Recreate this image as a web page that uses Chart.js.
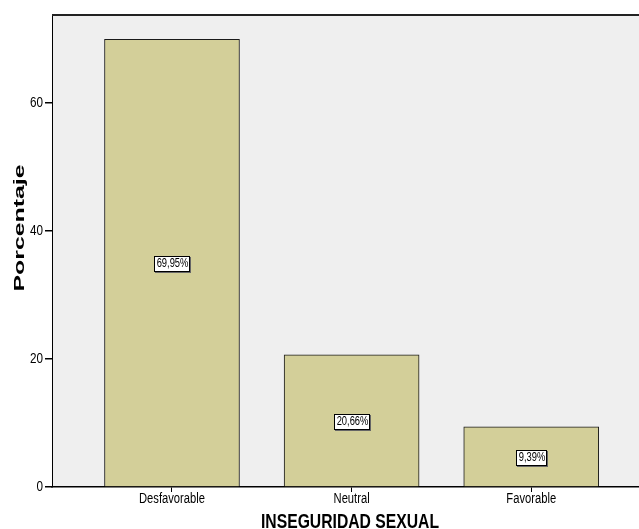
<!DOCTYPE html>
<html>
<head>
<meta charset="utf-8">
<script src="https://cdn.jsdelivr.net/npm/chart.js@4"></script>
<style>
	html, body { margin: 0; padding: 0; background: #ffffff; overflow: hidden; }
	#cadre { width: 639px; height: 529px; }
</style>
</head>
<body>
<div id="cadre"><canvas id="graphique"></canvas></div>
<script>
const categorias = ["Desfavorable", "Neutral", "Favorable"];
const porcentajes = [69.95, 20.66, 9.39];
const ticksY = [0, 20, 40, 60];

const tituloX = "INSEGURIDAD SEXUAL";
const tituloY = "Porcentaje";

const fuente = "'Liberation Sans', Arial, sans-serif";

// texte "condensé" comme dans SPSS
function texteEtroit(ctx, texte, x, y, echelle) {
	ctx.save();
	ctx.translate(x, y);
	ctx.scale(echelle, 1);
	ctx.fillText(texte, 0, 0);
	ctx.restore();
}

// fond gris + titres + etiquettes
const decor = {
	id: "decor",
	beforeDraw(chart) {
		const { ctx, chartArea } = chart;
		ctx.save();
		ctx.fillStyle = "#efefef";
		ctx.fillRect(chartArea.left, chartArea.top, chartArea.right - chartArea.left, chartArea.bottom - chartArea.top);
		ctx.restore();
	},
	afterDraw(chart) {
		const { ctx, chartArea } = chart;
		const barres = chart.getDatasetMeta(0).data;
		const sx = chart.scales.x;
		const sy = chart.scales.y;
		ctx.save();
		// ligne du haut
		ctx.strokeStyle = "#222";
		ctx.lineWidth = 2;
		ctx.beginPath();
		ctx.moveTo(chartArea.left, chartArea.top);
		ctx.lineTo(chartArea.right, chartArea.top);
		ctx.stroke();

		// etiquettes des barres
		ctx.font = "12px " + fuente;
		ctx.textAlign = "center";
		ctx.textBaseline = "middle";
		for (let i = 0; i < barres.length; i++) {
			const b = barres[i];
			const texte = porcentajes[i].toFixed(2).replace(".", ",") + "%";
			const cy = Math.round((b.y + b.base) / 2);
			const w = Math.round(ctx.measureText(texte).width * 0.78) + 3;
			const h = 15;
			const x0 = Math.round(b.x - w / 2);
			const y0 = cy - 7;
			ctx.fillStyle = "#666";
			ctx.fillRect(x0 + 1, y0 + 1, w + 1, h + 1);
			ctx.fillStyle = "#fff";
			ctx.fillRect(x0, y0, w, h);
			ctx.strokeStyle = "#000";
			ctx.lineWidth = 1;
			ctx.strokeRect(x0 + 0.5, y0 + 0.5, w, h);
			ctx.fillStyle = "#000";
			texteEtroit(ctx, texte, x0 + w / 2 + 1, cy + 1, 0.78);
		}

		// etiquettes axe X
		ctx.font = "14px " + fuente;
		ctx.textBaseline = "top";
		for (let i = 0; i < categorias.length; i++) {
			texteEtroit(ctx, categorias[i], sx.getPixelForValue(i), 492, 0.8);
		}

		// etiquettes axe Y
		ctx.font = "15px " + fuente;
		ctx.textAlign = "right";
		ctx.textBaseline = "middle";
		for (const v of ticksY) {
			texteEtroit(ctx, String(v), 43, sy.getPixelForValue(v), 0.78);
		}

		// titre axe X (condensé)
		ctx.font = "bold 21px " + fuente;
		ctx.textAlign = "center";
		ctx.textBaseline = "alphabetic";
		const wx = ctx.measureText(tituloX).width;
		texteEtroit(ctx, tituloX, 350, 528, 178 / wx);

		// titre axe Y (étiré)
		ctx.font = "bold 15px " + fuente;
		ctx.textBaseline = "middle";
		const wy = ctx.measureText(tituloY).width;
		ctx.translate(20, 228);
		ctx.rotate(-Math.PI / 2);
		texteEtroit(ctx, tituloY, 0, 0, 127 / wy);
		ctx.restore();
	},
};

const data = {
	datasets: [
		{
			label: tituloY,
			data: porcentajes.map((v, i) => ({ x: i, y: v })),
			backgroundColor: "rgb(211,207,153)",
			borderColor: "#1a1a1a",
			borderWidth: 1,
			barThickness: 135,
		},
	],
};

const config = {
	type: "bar",
	data: data,
	options: {
		responsive: true,
		maintainAspectRatio: false,
		animation: false,
		layout: { padding: { top: 15, right: 0, left: 0, bottom: 0 } },
		plugins: {
			legend: { display: false },
			tooltip: { enabled: false },
		},
		scales: {
			x: {
				type: "linear",
				offset: false,
				min: -0.668,
				max: 2.6,
				afterBuildTicks: (scale) => {
					scale.ticks = categorias.map((c, i) => ({ value: i }));
				},
				afterFit: (scale) => {
					scale.height = 42;
				},
				ticks: {
					callback: () => "",
					padding: 0,
					maxRotation: 0,
				},
				grid: { drawOnChartArea: false, offset: false, tickLength: 5, color: "#000" },
				border: { color: "#000", width: 1.5 },
			},
			y: {
				min: 0,
				max: 73.75,
				afterBuildTicks: (scale) => {
					scale.ticks = ticksY.map((v) => ({ value: v }));
				},
				afterFit: (scale) => {
					scale.width = 52;
				},
				ticks: {
					callback: () => "",
					padding: 0,
				},
				grid: { drawOnChartArea: false, tickLength: 7, color: "#000", lineWidth: 1.5 },
				border: { color: "#000", width: 1 },
			},
		},
	},
	plugins: [decor],
};

const graphique = new Chart(document.querySelector("#graphique"), config);
</script>
</body>
</html>
